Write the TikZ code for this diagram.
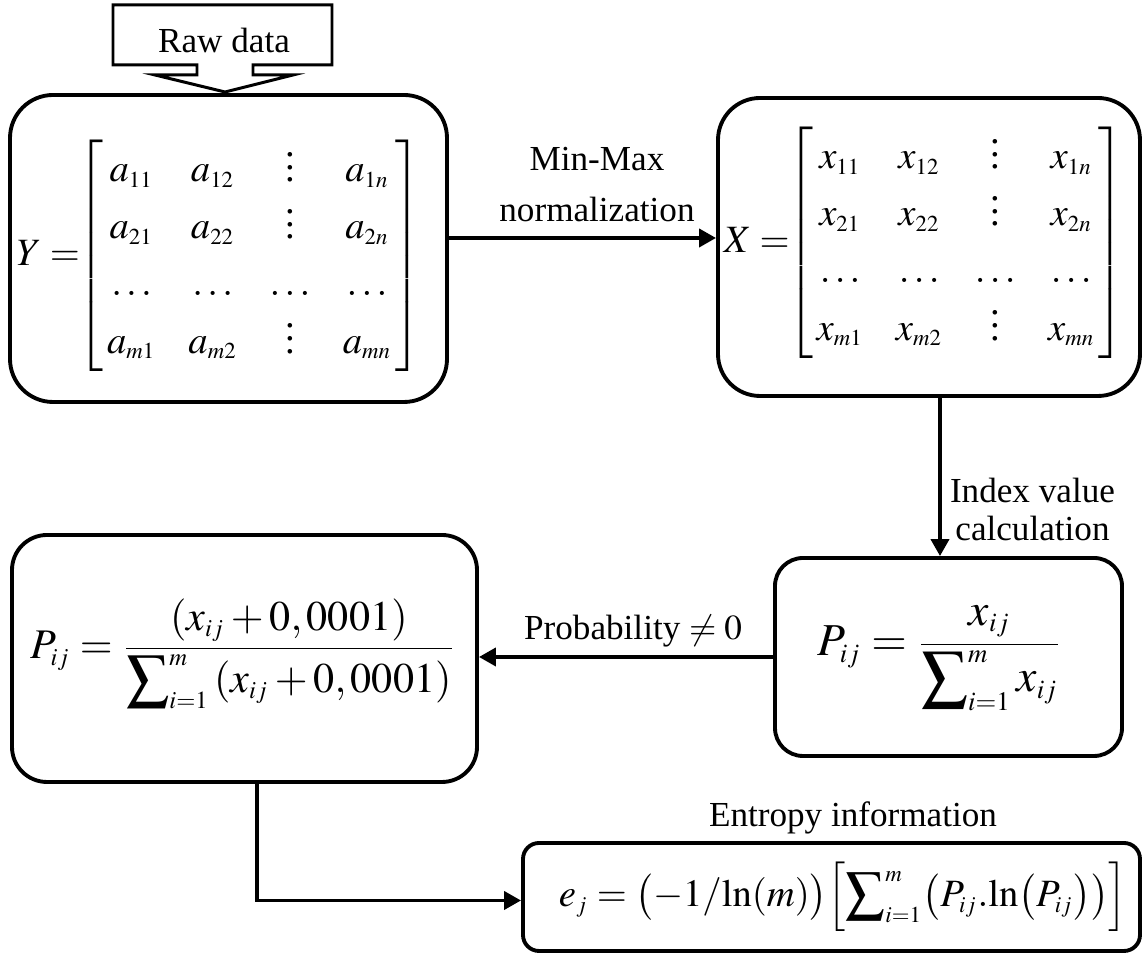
\documentclass[tikz,border=0pt]{standalone}
\usepackage{mathptmx}
\usepackage[no-math]{fontspec}
\setmainfont{Liberation Serif}
\usepackage{amsmath}
\usetikzlibrary{arrows.meta,positioning}
\DeclareMathSizes{11}{11}{6.5}{5}
\DeclareMathSizes{12}{12}{7}{5.5}
\DeclareMathSizes{13}{13}{7.6}{6}

\newcommand{\vdts}{\vbox{\baselineskip3.6pt\lineskiplimit0pt\hbox{.}\hbox{.}\hbox{.}}}
\newcommand{\datamat}[2]{\setlength{\arraycolsep}{4.6pt}\renewcommand{\arraystretch}{1.25}%
  #1=\mskip-5mu\left[\begin{array}{@{\hspace{1pt}}cccc@{\hspace{1pt}}}
    #2_{11} & #2_{12} & \vdts & #2_{1n}\\
    #2_{21} & #2_{22} & \vdts & #2_{2n}\\
    \ldots & \ldots & \ldots & \ldots\\
    #2_{m1} & #2_{m2} & \vdts & #2_{mn}
  \end{array}\right]}

\begin{document}
\begin{tikzpicture}[>={Triangle[length=1.7mm,width=1.8mm]},
  b/.style={draw,line width=1.1pt,inner sep=0pt},
  lbl/.style={inner sep=0pt,align=center},
  ln/.style={line width=1.1pt}]
  \useasboundingbox (0,0) rectangle (11.42,-9.54);
  % raw data callout
  \draw[line width=0.85pt] (1.13,-0.05) -- (3.32,-0.05) -- (3.32,-0.65) -- (2.53,-0.65)
    -- (2.53,-0.75) -- (2.93,-0.75) -- (2.25,-0.92) -- (1.55,-0.75) -- (1.97,-0.75)
    -- (1.97,-0.65) -- (1.13,-0.65) -- cycle;
  \node[anchor=base] (raw) at (2.24,-0.53) {Raw data};
  % boxes
  \node[b,rounded corners=4.3mm,minimum width=4.37cm,minimum height=3.07cm] (yb) at (2.285,-2.485) {};
  \node[b,rounded corners=4.2mm,minimum width=4.22cm,minimum height=2.98cm] (xb) at (9.29,-2.47) {};
  \node[b,rounded corners=2.8mm,minimum width=3.47cm,minimum height=1.98cm] (rp) at (9.485,-6.57) {};
  \node[b,rounded corners=3.5mm,minimum width=4.65cm,minimum height=2.47cm] (lp) at (2.445,-6.585) {};
  \node[b,rounded corners=1.6mm,minimum width=6.17cm,minimum height=1.08cm] (en) at (8.315,-8.97) {};
  % formulas
  \node (ym) at (2.19,-2.56) {\fontsize{11}{13}\selectfont$\datamat{Y}{a}$};
  \node (xm) at (9.24,-2.43) {\fontsize{11}{13}\selectfont$\datamat{X}{x}$};
  \node[anchor=base] (rpf) at (9.40,-6.56) {\fontsize{13}{15}\selectfont
    $\displaystyle P_{ij}=\frac{\displaystyle x_{ij}}{\displaystyle\sum\nolimits_{i=1}^{m}x_{ij}}$};
  \node[anchor=base] (lpf) at (2.43,-6.59) {\fontsize{12}{14}\selectfont
    $\displaystyle P_{ij}=\frac{\displaystyle\left(x_{ij}+0,0001\right)}{\displaystyle\sum\nolimits_{i=1}^{m}\left(x_{ij}+0,0001\right)}$};
  \node (enf) at (8.43,-8.97) {\fontsize{11}{13}\selectfont
    $\displaystyle e_{j}=\bigl(-1/\mathrm{ln}(m)\bigr)\Bigl[\sum\nolimits_{i=1}^{m}\bigl(P_{ij}.\mathrm{ln}\bigl(P_{ij}\bigr)\bigr)\Bigr]$};
  % connectors
  \draw[ln,->] ([yshift=1.05mm]yb.east) -- ([yshift=1.05mm]yb.east -| xb.west);
  \draw[ln,->] ([xshift=1.1mm]xb.south) -- ([xshift=1.1mm]xb.south |- rp.north);
  \draw[ln,->] (rp.west) -- (rp.west -| lp.east);
  \draw[ln,->] ([xshift=1.25mm]lp.south) |- ([yshift=-0.35mm]en.west);
  % labels
  \node[lbl,anchor=south] (mmx) at (5.97,-2.23) {Min-Max\\[2.5pt]normalization};
  \node[lbl,anchor=south] (idx) at (10.325,-5.42) {Index value\\[-1pt]calculation};
  \node[lbl,anchor=base] (prb) at (6.33,-6.40) {Probability $\neq 0$};
  \node[lbl,anchor=base] (ent) at (8.53,-8.27) {Entropy information};
\end{tikzpicture}
\end{document}
